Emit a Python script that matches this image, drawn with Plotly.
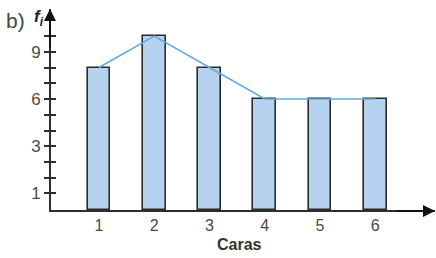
import plotly.graph_objects as go

caras = [1, 2, 3, 4, 5, 6]
frecuencias = [8, 10, 8, 6, 6, 6]
y_tick_vals = [0, 1, 2, 3, 4, 5, 6, 7, 8, 9, 10]
y_tick_text = ["1", "", "", "3", "", "", "6", "", "", "9", ""]
x_title = "Caras"

Y_MIN, Y_MAX = -1.05, 11.72
X_MIN, X_MAX = 0.132, 7.08
AX = "#2e2e2e"
LBL = "#4a4a4a"
FONT = "Liberation Sans"

fig = go.Figure()
fig.add_trace(go.Bar(
    x=caras, y=[v - Y_MIN for v in frecuencias], base=Y_MIN,
    width=0.41, marker=dict(color="#b5d3ef", line=dict(color="#2b2b2b", width=1.6)),
    showlegend=False, hoverinfo="skip"))
fig.add_trace(go.Scatter(
    x=caras, y=frecuencias, mode="lines",
    line=dict(color="#62aae2", width=1.6), showlegend=False, hoverinfo="skip"))
fig.add_trace(go.Scatter(x=[X_MIN], y=[Y_MIN], yaxis="y2", mode="markers",
                         marker=dict(opacity=0), showlegend=False, hoverinfo="skip"))

fig.update_layout(
    width=436, height=258,
    margin=dict(l=51, r=1, t=9, b=48, autoexpand=False),
    paper_bgcolor="white", plot_bgcolor="white",
    font=dict(family=FONT, size=16, color=LBL),
    xaxis=dict(range=[X_MIN, X_MAX], tickvals=caras, ticktext=[str(c) for c in caras],
               showgrid=False, zeroline=False, showline=True, linecolor=AX, linewidth=2,
               ticks="", tickfont=dict(size=16, color=LBL)),
    yaxis=dict(range=[Y_MIN, Y_MAX], tickvals=y_tick_vals, ticktext=y_tick_text,
               showgrid=False, zeroline=False, showline=True, linecolor=AX, linewidth=2,
               ticks="outside", ticklen=5, tickwidth=1.5, tickcolor=AX,
               tickfont=dict(size=17, color=LBL)),
    yaxis2=dict(range=[Y_MIN, Y_MAX], tickvals=y_tick_vals, overlaying="y", side="left",
                anchor="x", showticklabels=False, showgrid=False, zeroline=False,
                showline=False, ticks="inside", ticklen=5, tickwidth=1.5, tickcolor=AX),
    bargap=0,
)

# arrow heads at axis ends
fig.add_annotation(x=1.0, y=-0.005, xref="paper", yref="paper", ax=-40, ay=0, text="",
                   showarrow=True, arrowhead=2, arrowsize=1.2, arrowwidth=2, arrowcolor="#111")
fig.add_annotation(x=-0.0026, y=1.0, xref="paper", yref="paper", ax=0, ay=40, text="",
                   showarrow=True, arrowhead=2, arrowsize=1.2, arrowwidth=2, arrowcolor="#111")

fig.add_annotation(x=0.49, y=-0.17, xref="paper", yref="paper", text="<b>" + x_title + "</b>",
                   showarrow=False, font=dict(size=16, color="#333"), yanchor="middle")
fig.add_annotation(x=-0.092, y=0.945, xref="paper", yref="paper", text="b)", showarrow=False,
                   font=dict(size=21, color="#444"), xanchor="center", yanchor="middle")
fig.add_annotation(x=-0.03, y=0.955, xref="paper", yref="paper",
                   text="<b><i>f</i></b><sub><b><i>i</i></b></sub>", showarrow=False,
                   font=dict(size=17, color="#222"), xanchor="center", yanchor="middle")

fig.write_html("out.html", config={"displayModeBar": False},
               post_script="document.body.style.margin='0';")
